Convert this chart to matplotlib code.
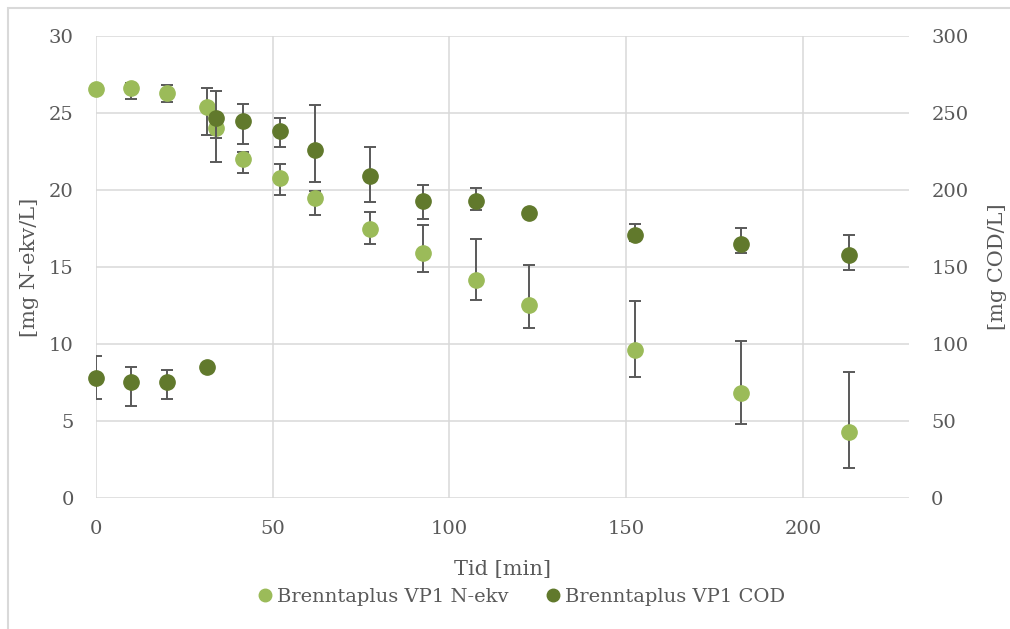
import numpy as np
import matplotlib.pyplot as plt
from matplotlib.lines import Line2D
from matplotlib.patches import Rectangle

plt.rcParams['font.family'] = ['DejaVu Serif']

# data
tid = [0, 10, 20, 31.5, 34, 41.5, 52, 62, 77.5, 92.5, 107.5, 122.5, 152.5, 182.5, 213]

n_ekv = [26.55, 26.65, 26.33, 25.42, 24.0, 22.0, 20.8, 19.5, 17.5, 15.92, 14.18, 12.54, 9.61, 6.81, 4.31]
n_err_lo = [0, 0.75, 0.63, 1.82, 0.65, 0.9, 1.1, 1.13, 1.0, 1.22, 1.32, 1.5, 1.74, 2.01, 2.34]
n_err_hi = [0, 0.32, 0.47, 1.23, 0.65, 0.5, 0.86, 0.43, 1.05, 1.78, 2.67, 2.56, 3.21, 3.4, 3.84]

cod = [78, 75, 75, 85, 247, 245, 238, 226, 209, 193, 193, 185, 171, 165, 158]
cod_err_lo = [14, 15, 11, 0, 29, 15, 10, 21, 17, 12, 6, 0, 4, 6, 10]
cod_err_hi = [14, 10, 8, 0, 17, 11, 9, 29, 19, 10, 8, 0, 7, 10, 13]

light = '#9BBB59'
dark = '#61792C'
txt = '#595959'
grid = '#D9D9D9'
fs = 14

fig = plt.figure(figsize=(10.1, 6.29), dpi=100)
W, H = 1010, 629
ax = fig.add_axes([96 / W, (H - 498) / H, (909 - 96) / W, (498 - 36) / H])
ax2 = ax.twinx()

ax.set_xlim(0, 230)
ax.set_ylim(0, 30)
ax2.set_ylim(0, 300)
ax.set_xticks([0, 50, 100, 150, 200])
ax.set_yticks(range(0, 31, 5))
ax2.set_yticks(range(0, 301, 50))

ax.grid(True, color=grid, linewidth=1.1)
ax.set_axisbelow(True)
for a in (ax, ax2):
    for s in a.spines.values():
        s.set_visible(False)
    a.tick_params(length=0, pad=16, labelsize=fs, colors=txt)

ekw = dict(fmt='none', ecolor=txt, elinewidth=1.4, capsize=4.3, capthick=1.4)
ax.errorbar(tid, n_ekv, yerr=[n_err_lo, n_err_hi], **ekw)
ax.plot(tid, n_ekv, 'o', color=light, markersize=11, clip_on=False, zorder=3)
ax2.errorbar(tid, cod, yerr=[cod_err_lo, cod_err_hi], **ekw)
ax2.plot(tid, cod, 'o', color=dark, markersize=11, clip_on=False, zorder=3)

ax.set_xlabel('Tid [min]', fontsize=fs + 1, color=txt, labelpad=16)
ax.set_ylabel('[mg N-ekv/L]', fontsize=fs + 1, color=txt, labelpad=7)
ax2.set_ylabel('[mg COD/L]', fontsize=fs + 1, color=txt, rotation=90, labelpad=14)

handles = [Line2D([], [], ls='none', marker='o', color=light, markersize=9),
           Line2D([], [], ls='none', marker='o', color=dark, markersize=9)]
fig.legend(handles, ['Brenntaplus VP1 N-ekv', 'Brenntaplus VP1 COD'],
           loc='center', bbox_to_anchor=(520 / W, 1 - 597 / H), ncol=2,
           frameon=False, fontsize=fs, labelcolor=txt,
           handletextpad=0.1, columnspacing=1.8, handlelength=1.0)

fig.patches.append(Rectangle((8 / W, -0.1), 1.2, 1 - 8 / H + 0.1,
                             transform=fig.transFigure, fill=False,
                             edgecolor=grid, linewidth=1.5))

fig.savefig('out.png', dpi=100, facecolor='white')
